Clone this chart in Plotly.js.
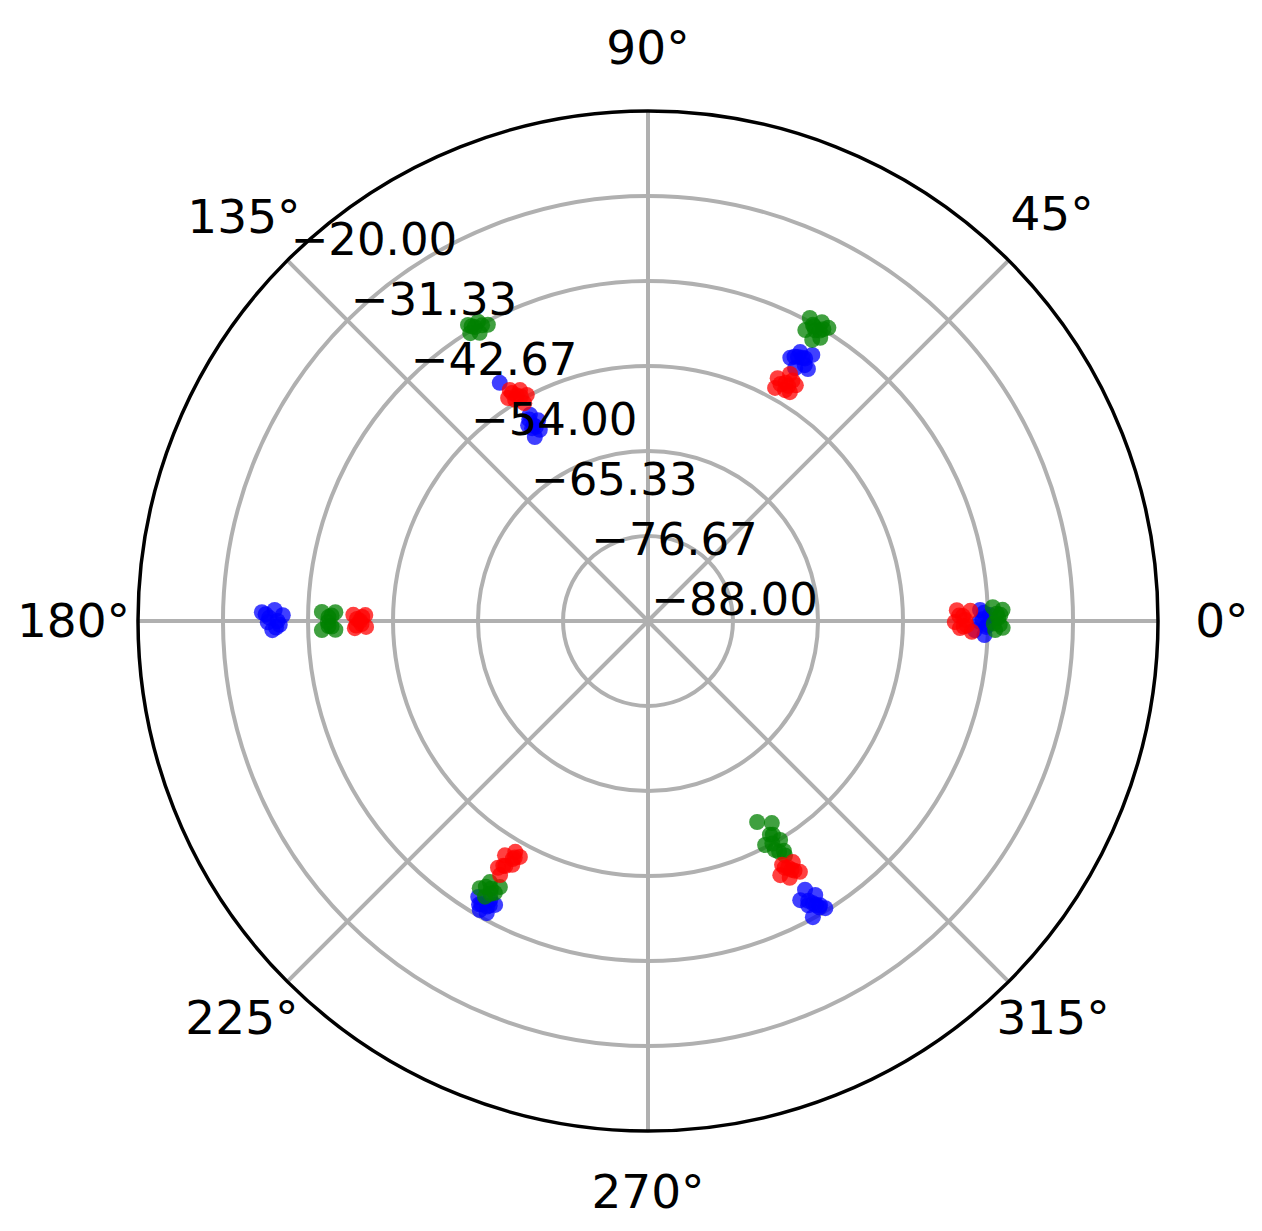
<!DOCTYPE html>
<html>
<head>
<meta charset="utf-8">
<script src="https://cdn.plot.ly/plotly-3.0.1.min.js"></script>
<style>html,body{margin:0;padding:0;background:#fff;}#chart{width:1262px;height:1231px;}</style>
</head>
<body>
<div id="chart"></div>
<script>
// Angular tick positions and labels
const angleTicks = [0, 45, 90, 135, 180, 225, 270, 315];
const angleLabels = ["0°", "45°", "90°", "135°", "180°", "225°", "270°", "315°"];
// Radial tick values and labels
const radialTicks = [-88.00, -76.67, -65.33, -54.00, -42.67, -31.33, -20.00];
const radialLabels = ["−88.00", "−76.67", "−65.33", "−54.00", "−42.67", "−31.33", "−20.00"];

// Red series
const redTheta = [2.0, 1.8, -1.3, -1.9, 0.2, -0.2, 0.9, -0.8, 1.0, -1.0,
  61.9, 60.1, 57.9, 59.3, 61.4, 58.2, 60.0, 59.2, 60.8, 59.0,
  120.9, 119.0, 118.2, 121.0, 122.1, 119.6, 120.2, 119.5, 120.8,
  178.8, 178.8, 181.4, 181.2, 180.0, 179.6, 180.6, 179.2, 180.9,
  238.7, 238.6, 240.1, 240.9, 239.8, 241.5, 239.8, 240.4, 239.4, 240.6,
  298.8, 301.0, 301.2, 298.9, 297.5, 300.0, 299.6, 300.4, 299.0];
const redR = [-46.8, -45.0, -46.4, -44.8, -45.7, -47.1, -46.0, -45.5, -46.5, -45.9,
  -51.3, -50.0, -50.9, -52.2, -52.6, -52.1, -51.3, -51.5, -51.8, -50.6,
  -52.1, -52.8, -53.8, -53.6, -52.9, -54.6, -53.2, -53.6, -52.6,
  -48.7, -50.3, -48.9, -50.4, -49.6, -49.2, -49.8, -49.9, -49.1,
  -49.5, -51.4, -52.5, -50.8, -48.8, -52.2, -50.2, -51.5, -50.1, -51.8,
  -50.9, -50.5, -48.9, -48.9, -49.8, -49.7, -50.2, -49.4, -50.4];

// Green series
const greenTheta = [2.3, 1.8, -1.5, -1.1, 0.5, -0.4, 1.2, 1.0, -0.6,
  61.9, 59.8, 58.4, 60.1, 61.6, 58.7, 59.7, 60.6, 59.4, 60.9, 59.0,
  121.3, 119.6, 118.4, 120.3, 121.7, 120.5, 119.3, 120.9,
  178.4, 178.4, 181.6, 181.6, 180.2, 179.3, 180.9, 179.0, 181.0,
  237.8, 238.8, 240.9, 239.4, 240.6, 239.6, 238.6, 240.0,
  298.5, 301.5, 299.7, 301.1, 299.0, 300.3, 297.6, 300.3, 299.6, 300.6, 299.2];
const greenR = [-42.0, -40.7, -41.7, -40.7, -41.3, -41.9, -41.5, -41.0, -41.1,
  -42.2, -41.9, -42.1, -43.3, -43.9, -43.8, -44.6, -42.9, -43.0, -42.8, -42.6,
  -41.8, -42.1, -43.1, -43.5, -42.9, -42.5, -42.8, -42.2,
  -44.5, -46.3, -44.5, -46.3, -45.3, -45.4, -45.4, -45.8, -45.8,
  -45.9, -47.3, -47.4, -45.3, -46.4, -46.6, -46.5, -46.0,
  -57.5, -56.4, -55.2, -53.9, -53.1, -51.8, -54.3, -55.0, -52.6, -52.4, -54.0];

// Blue series
const blueTheta = [1.9, -0.7, -2.4, -1.6, 1.0, 0.3, -1.0, 1.4, -0.1,
  61.6, 60.5, 58.3, 58.5, 59.8, 57.6, 59.6, 60.4, 59.1, 61.0,
  121.9, 119.8, 118.7, 121.5, 119.5, 121.6, 120.3, 120.5, 120.0, 121.0,
  178.7, 178.3, 179.1, 180.2, 181.4, 180.6, 179.5, 180.0, 179.0, 181.0,
  238.4, 240.5, 239.8, 241.1, 241.7, 239.5, 240.6, 239.2, 240.9,
  300.3, 301.4, 301.2, 299.4, 299.1, 301.7, 298.6, 300.3, 300.6, 299.8, 300.9];
const blueR = [-43.7, -42.7, -43.1, -44.4, -42.4, -43.4, -42.9, -43.2, -43.8,
  -48.1, -46.8, -46.3, -48.0, -49.0, -48.2, -47.3, -47.5, -47.2, -47.7,
  -50.6, -56.3, -57.5, -57.4, -58.7, -59.2, -57.8, -56.8, -58.1, -58.0,
  -36.5, -38.2, -39.3, -37.3, -37.9, -38.9, -37.5, -38.6, -37.0, -38.4,
  -44.8, -45.3, -43.4, -43.5, -45.0, -44.2, -44.3, -44.0, -44.6,
  -46.5, -45.2, -43.7, -44.5, -42.8, -43.0, -45.6, -44.4, -44.0, -45.0, -43.5];

const W = 1262, H = 1231;
const CX = 648, CY = 621, RAD = 510;   // circle centre and radius in px
const FONT = "DejaVu Sans";

// domain of a polar subplot whose centre is shifted by (tx, ty) px
function domainAt(tx, ty) {
  return {
    x: [(CX - RAD + tx) / W, (CX + RAD + tx) / W],
    y: [(H - (CY + RAD + ty)) / H, (H - (CY - RAD + ty)) / H]
  };
}

function series(r, theta, color) {
  return {
    type: "scatterpolar", mode: "markers", r: r, theta: theta, subplot: "polar",
    marker: {color: color, size: 16, opacity: 0.75, line: {width: 0}},
    showlegend: false, hoverinfo: "skip"
  };
}

const data = [
  series(blueR, blueTheta, "#0000ff"),
  series(greenR, greenTheta, "#008000"),
  series(redR, redTheta, "#ff0000")
];

// which angular labels the main subplot shows; the others are drawn by
// label-only subplots nudged so they sit where the reference puts them
const mainLabelIdx = [0, 2];
const labelShift = {1: [-25, -9], 3: [40, -6], 4: [30, 0], 5: [38, -19], 6: [0, -6], 7: [-39, -19]};

const layout = {
  width: W, height: H,
  margin: {l: 0, r: 0, t: 0, b: 0, pad: 0},
  paper_bgcolor: "#ffffff",
  font: {family: FONT, size: 44, color: "#000000"},
  showlegend: false,
  polar: {
    domain: domainAt(0, 0),
    bgcolor: "#ffffff",
    angularaxis: {
      direction: "counterclockwise", rotation: 0,
      tickmode: "array", tickvals: angleTicks,
      ticktext: angleLabels.map((t, i) => mainLabelIdx.includes(i) ? t : ""),
      showline: true, linecolor: "#000000", linewidth: 3.5,
      showgrid: true, gridcolor: "#b0b0b0", gridwidth: 4,
      ticks: "outside", ticklen: 26, tickcolor: "rgba(0,0,0,0)",
      tickfont: {family: FONT, size: 47, color: "#000000"},
      layer: "above traces"
    },
    radialaxis: {
      range: [-88, -20], angle: 135,
      tickmode: "array", tickvals: radialTicks, showticklabels: false,
      showline: false, ticks: "",
      showgrid: true, gridcolor: "#b0b0b0", gridwidth: 4,
      layer: "above traces"
    }
  }
};

let idx = 2;
Object.keys(labelShift).forEach(k => {
  const i = Number(k);
  const name = "polar" + idx;
  layout[name] = {
    domain: domainAt(labelShift[i][0], labelShift[i][1]),
    bgcolor: "rgba(0,0,0,0)",
    angularaxis: {
      direction: "counterclockwise", rotation: 0,
      tickmode: "array", tickvals: [angleTicks[i]], ticktext: [angleLabels[i]],
      showline: false, showgrid: false,
      ticks: "outside", ticklen: (i === 6 ? 26 : 28), tickcolor: "rgba(0,0,0,0)",
      tickfont: {family: FONT, size: 47, color: "#000000"}
    },
    radialaxis: {visible: false, range: [-88, -20]}
  };
  data.push({type: "scatterpolar", r: [], theta: [], subplot: name, showlegend: false, hoverinfo: "skip"});
  idx++;
});

// radial tick labels, in their own subplot nudged along the label axis
const rName = "polar" + idx;
layout[rName] = {
  domain: domainAt(-13, -12),
  bgcolor: "rgba(0,0,0,0)",
  angularaxis: {visible: false, direction: "counterclockwise", rotation: 0},
  radialaxis: {
    range: [-88, -20], angle: 135, side: "clockwise",
    tickmode: "array", tickvals: radialTicks, ticktext: radialLabels,
    showline: false, ticks: "", showgrid: false,
    tickangle: 135,
    tickfont: {family: FONT, size: 45, color: "#000000"},
    layer: "above traces"
  }
};
data.push({type: "scatterpolar", r: [], theta: [], subplot: rName, showlegend: false, hoverinfo: "skip"});

Plotly.newPlot("chart", data, layout, {displayModeBar: false, staticPlot: true});
</script>
</body>
</html>
